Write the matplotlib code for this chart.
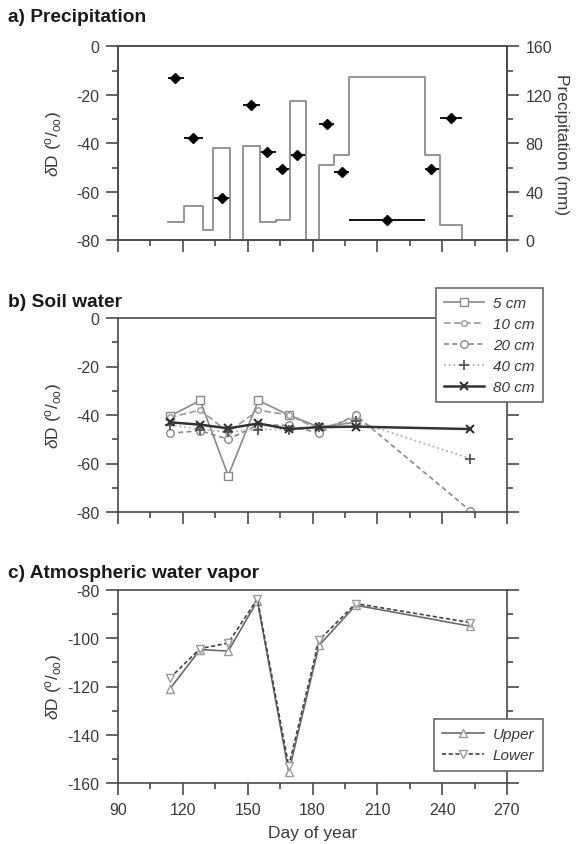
import matplotlib
matplotlib.use("Agg")
import matplotlib.pyplot as plt
from matplotlib.ticker import MultipleLocator

plt.rcParams['font.family'] = ['Liberation Sans', 'DejaVu Sans']
plt.rcParams['mathtext.fontset'] = 'custom'
plt.rcParams['mathtext.rm'] = 'Liberation Sans'
plt.rcParams['mathtext.it'] = 'Liberation Sans:italic'
plt.rcParams['axes.unicode_minus'] = False

# a) precipitation: event samples (dD) and collection periods
precip_day = [116.5, 124.5, 138, 151.5, 159, 166, 173, 186.5, 193.5, 214.5, 235, 244]
precip_dD = [-13, -38, -62.5, -24, -43.5, -50.5, -45, -32, -52, -71.5, -50.5, -29.5]
period_start = [113, 120.5, 134, 148, 155.5, 163, 169.5, 183, 190, 197, 232, 239]
period_end = [120.5, 129.5, 142, 155.5, 163, 169.5, 177, 190, 197, 232, 239, 249]

# precipitation amount per interval (mm), interval edges in day of year
amount_edges = [113, 120.5, 129.5, 134, 142, 148, 155.5, 163, 169.5, 177, 183, 190, 197, 232, 239, 249]
amount_mm = [15, 28, 8.5, 76, 0, 77.5, 15, 17, 114.5, 0, 62, 70, 135, 70, 12.5]

# b) soil water dD by depth
soil_days = [114, 128, 141, 155, 169, 183, 200, 253]
d5 = [-40.5, -34, -65, -34, -40, -45, -43]
d10 = [-41, -38, -47, -38, -40, -46, -41]
d20 = [-47.5, -46.5, -50, -44, -44.3, -47.5, -40, -79.5]
d40 = [-44, -46, -47, -46, -46, -45, -42.5, -58]
d80 = [-43, -44, -45.5, -43.5, -45.8, -45, -44.8, -45.8]

# c) atmospheric water vapor dD
vapor_days = [114, 128, 141, 154.5, 169, 183, 200, 253]
upper = [-121, -104.7, -105.3, -84.5, -155.5, -103, -86.3, -95]
lower = [-116.5, -104.3, -102, -83.7, -153, -100.8, -85.6, -93.5]

W, H = 578, 845
fig = plt.figure(figsize=(W / 100, H / 100), dpi=100)

left = 118 / W
width = (507 - 118) / W
ax_a = fig.add_axes([left, 1 - 241.3 / H, width, 194 / H])
ax_b = fig.add_axes([left, 1 - 513 / H, width, 194 / H])
ax_c = fig.add_axes([left, 1 - 784 / H, width, 193 / H])

spine_col = '#4a4a4a'
text_col = '#3a3a3a'
fs = 11.5
ylab = r'$\delta$D ($^{\mathrm{o}}/_{\mathrm{oo}}$)'


def style(ax, right=True):
    for s in ax.spines.values():
        s.set_color(spine_col)
        s.set_linewidth(1.2)
    ax.xaxis.set_major_locator(MultipleLocator(30))
    ax.xaxis.set_minor_locator(MultipleLocator(15))
    ax.tick_params(which='both', direction='out', top=False, right=right,
                   color=spine_col, width=1.2, labelsize=fs, labelcolor=text_col, pad=5)
    ax.tick_params(which='major', length=8.5)
    ax.tick_params(which='minor', length=4.5)
    ax.set_xlim(90, 270)


def style_legend(leg):
    leg.get_frame().set_linewidth(1.2)
    for t in leg.get_texts():
        t.set_color(text_col)


legend_kw = dict(loc='upper left', bbox_transform=fig.transFigure, borderaxespad=0,
                 prop={'style': 'italic', 'size': 11}, fancybox=False,
                 edgecolor='#6a6a6a', framealpha=1, labelspacing=0.45,
                 borderpad=0.55, handletextpad=0.6)

# ---- panel a
style(ax_a, right=False)
ax_a.set_ylim(-80, 0)
ax_a.yaxis.set_major_locator(MultipleLocator(20))
ax_a.yaxis.set_minor_locator(MultipleLocator(10))
ax_a.tick_params(axis='x', labelbottom=False)
xerr = [[d - s for d, s in zip(precip_day, period_start)],
        [e - d for d, e in zip(precip_day, period_end)]]
ax_a.errorbar(precip_day, precip_dD, xerr=xerr, fmt='D', color='k', ms=4.8,
              elinewidth=1.3, capsize=0, zorder=5)
ax_a.set_ylabel(ylab, fontsize=12.5, color=text_col)
ax_a.yaxis.set_label_coords(-0.14, 0.5)

ax_p = ax_a.twinx()
ax_p.step(amount_edges, amount_mm + [0], where='post', color='#8c8c8c', lw=1.3)
ax_p.set_ylim(0, 160)
ax_p.yaxis.set_major_locator(MultipleLocator(40))
ax_p.yaxis.set_minor_locator(MultipleLocator(20))
for s in ax_p.spines.values():
    s.set_color(spine_col)
    s.set_linewidth(1.2)
ax_p.tick_params(which='both', direction='out', color=spine_col, width=1.2,
                 labelsize=fs, labelcolor=text_col, pad=5)
ax_p.tick_params(which='major', length=8.5)
ax_p.tick_params(which='minor', length=4.5)
ax_p.set_ylabel('Precipitation (mm)', fontsize=12.5, color=text_col, rotation=270)
ax_p.yaxis.set_label_coords(1.16, 0.5)

# ---- panel b
style(ax_b)
ax_b.set_ylim(-80, 0)
ax_b.yaxis.set_major_locator(MultipleLocator(20))
ax_b.yaxis.set_minor_locator(MultipleLocator(10))
ax_b.tick_params(axis='x', labelbottom=False)
ax_b.plot(soil_days[:len(d5)], d5, '-', marker='s', color='#8a8a8a', lw=1.2,
          ms=5.5, mfc='white', label='5 cm')
ax_b.plot(soil_days[:len(d10)], d10, '--', marker='o', color='#9a9a9a', lw=1.2,
          ms=4, mfc='white', dashes=(4, 2), label='10 cm')
ax_b.plot(soil_days, d20, '--', marker='o', color='#8a8a8a', lw=1.2,
          ms=5.5, mfc='white', dashes=(3, 2), label='20 cm')
ax_b.plot(soil_days, d40, ':', marker='+', color='#b0b0b0', lw=1.3,
          ms=7, mec='#555555', mew=1.3, label='40 cm')
ax_b.plot(soil_days, d80, '-', marker='x', color='#333333', lw=1.8,
          ms=6, mew=1.5, label='80 cm')
ax_b.set_ylabel(ylab, fontsize=12.5, color=text_col)
ax_b.yaxis.set_label_coords(-0.14, 0.5)
leg_b = ax_b.legend(bbox_to_anchor=(436 / W, 1 - 289 / H), handlelength=2.6, **legend_kw)
style_legend(leg_b)

# ---- panel c
style(ax_c)
ax_c.set_ylim(-160, -80)
ax_c.yaxis.set_major_locator(MultipleLocator(20))
ax_c.yaxis.set_minor_locator(MultipleLocator(10))
ax_c.plot(vapor_days, upper, '-', marker='^', color='#6a6a6a', lw=1.2,
          ms=6, mfc='white', mec='#9a9a9a', label='Upper')
ax_c.plot(vapor_days, lower, '--', marker='v', color='#444444', lw=1.2,
          ms=6, mfc='white', mec='#9a9a9a', dashes=(2.5, 1.5), label='Lower')
ax_c.set_ylabel(ylab, fontsize=12.5, color=text_col)
ax_c.yaxis.set_label_coords(-0.14, 0.5)
ax_c.set_xlabel('Day of year', fontsize=12.5, color=text_col)
ax_c.xaxis.set_label_coords(0.5, -0.22)
leg_c = ax_c.legend(bbox_to_anchor=(434 / W, 1 - 720 / H), handlelength=2.7, **legend_kw)
style_legend(leg_c)

# panel titles
for y, txt in [(18, 'a) Precipitation'), (303, 'b) Soil water'),
               (573, 'c) Atmospheric water vapor')]:
    fig.text(8 / W, 1 - y / H, txt, fontsize=13.8, fontweight='bold',
             va='center', ha='left', color='#1a1a1a')

fig.savefig('out.png', dpi=100)
